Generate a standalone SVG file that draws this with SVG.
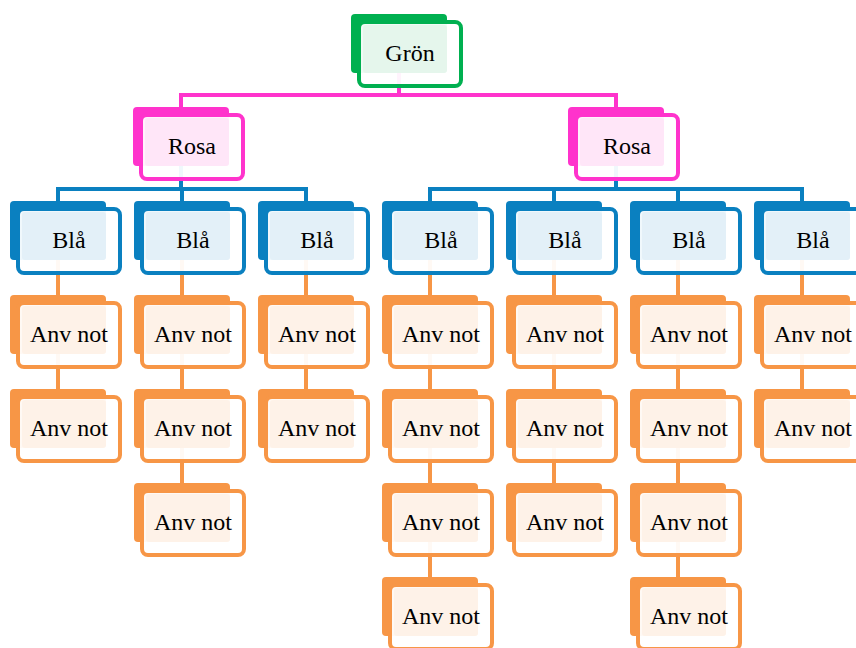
<svg xmlns="http://www.w3.org/2000/svg" width="856" height="648" viewBox="0 0 856 648">
<style>
.fr{fill:#ffffff;fill-opacity:0.94;stroke-width:4}
.t{font-size:24px;fill:#000;text-anchor:middle}
.g .bk{fill:#00b050}.g .fr{stroke:#00b050}.g .lt{fill:#e5f6ec}
.p .bk{fill:#ff33cc}.p .fr{stroke:#ff33cc}.p .lt{fill:#ffe6f8}
.b .bk{fill:#0a80c0}.b .fr{stroke:#0a80c0}.b .lt{fill:#e3f0f8}
.o .bk{fill:#f79646}.o .fr{stroke:#f79646}.o .lt{fill:#fef2e8}
.c{fill:none;stroke-width:4;stroke-linecap:butt}
</style>
<g id="connectors">
<path class="c" stroke="#ff33cc" d="M399,73 V95 M181,107 V95 H616 V107"/>
<path class="c" stroke="#0a80c0" d="M181,166 V189 M58,201 V189 H306 V201 M182,189 V201"/>
<path class="c" stroke="#0a80c0" d="M616,166 V189 M430,201 V189 H802 V201 M554,189 V201 M678,189 V201"/>
<path class="c" stroke="#f79646" d="M58,260 V295 M58,354 V389"/>
<path class="c" stroke="#f79646" d="M182,260 V295 M182,354 V389 M182,448 V483"/>
<path class="c" stroke="#f79646" d="M306,260 V295 M306,354 V389"/>
<path class="c" stroke="#f79646" d="M430,260 V295 M430,354 V389 M430,448 V483 M430,542 V577"/>
<path class="c" stroke="#f79646" d="M554,260 V295 M554,354 V389 M554,448 V483"/>
<path class="c" stroke="#f79646" d="M678,260 V295 M678,354 V389 M678,448 V483 M678,542 V577"/>
<path class="c" stroke="#f79646" d="M802,260 V295 M802,354 V389"/>
</g>
<g font-family="Liberation Serif">
<g id="n-gron" class="g" transform="translate(351,14)"><rect class="bk" width="96" height="59" rx="4"/><rect class="fr" x="8" y="8" width="102" height="64" rx="6"/><rect class="lt" x="12" y="11" width="84" height="48" rx="3"/><text class="t" x="59" y="47">Grön</text></g>
<g id="n-rosa1" class="p" transform="translate(133,107)"><rect class="bk" width="96" height="59" rx="4"/><rect class="fr" x="8" y="8" width="102" height="64" rx="6"/><rect class="lt" x="12" y="11" width="84" height="48" rx="3"/><text class="t" x="59" y="47">Rosa</text></g>
<g id="n-rosa2" class="p" transform="translate(568,107)"><rect class="bk" width="96" height="59" rx="4"/><rect class="fr" x="8" y="8" width="102" height="64" rx="6"/><rect class="lt" x="12" y="11" width="84" height="48" rx="3"/><text class="t" x="59" y="47">Rosa</text></g>
<g id="n-bla1" class="b" transform="translate(10,201)"><rect class="bk" width="96" height="59" rx="4"/><rect class="fr" x="8" y="8" width="102" height="64" rx="6"/><rect class="lt" x="12" y="11" width="84" height="48" rx="3"/><text class="t" x="59" y="47">Blå</text></g>
<g id="n-bla2" class="b" transform="translate(134,201)"><rect class="bk" width="96" height="59" rx="4"/><rect class="fr" x="8" y="8" width="102" height="64" rx="6"/><rect class="lt" x="12" y="11" width="84" height="48" rx="3"/><text class="t" x="59" y="47">Blå</text></g>
<g id="n-bla3" class="b" transform="translate(258,201)"><rect class="bk" width="96" height="59" rx="4"/><rect class="fr" x="8" y="8" width="102" height="64" rx="6"/><rect class="lt" x="12" y="11" width="84" height="48" rx="3"/><text class="t" x="59" y="47">Blå</text></g>
<g id="n-bla4" class="b" transform="translate(382,201)"><rect class="bk" width="96" height="59" rx="4"/><rect class="fr" x="8" y="8" width="102" height="64" rx="6"/><rect class="lt" x="12" y="11" width="84" height="48" rx="3"/><text class="t" x="59" y="47">Blå</text></g>
<g id="n-bla5" class="b" transform="translate(506,201)"><rect class="bk" width="96" height="59" rx="4"/><rect class="fr" x="8" y="8" width="102" height="64" rx="6"/><rect class="lt" x="12" y="11" width="84" height="48" rx="3"/><text class="t" x="59" y="47">Blå</text></g>
<g id="n-bla6" class="b" transform="translate(630,201)"><rect class="bk" width="96" height="59" rx="4"/><rect class="fr" x="8" y="8" width="102" height="64" rx="6"/><rect class="lt" x="12" y="11" width="84" height="48" rx="3"/><text class="t" x="59" y="47">Blå</text></g>
<g id="n-bla7" class="b" transform="translate(754,201)"><rect class="bk" width="96" height="59" rx="4"/><rect class="fr" x="8" y="8" width="102" height="64" rx="6"/><rect class="lt" x="12" y="11" width="84" height="48" rx="3"/><text class="t" x="59" y="47">Blå</text></g>
<g id="n-a1-1" class="o" transform="translate(10,295)"><rect class="bk" width="96" height="59" rx="4"/><rect class="fr" x="8" y="8" width="102" height="64" rx="6"/><rect class="lt" x="12" y="11" width="84" height="48" rx="3"/><text class="t" x="59" y="47">Anv not</text></g>
<g id="n-a1-2" class="o" transform="translate(10,389)"><rect class="bk" width="96" height="59" rx="4"/><rect class="fr" x="8" y="8" width="102" height="64" rx="6"/><rect class="lt" x="12" y="11" width="84" height="48" rx="3"/><text class="t" x="59" y="47">Anv not</text></g>
<g id="n-a2-1" class="o" transform="translate(134,295)"><rect class="bk" width="96" height="59" rx="4"/><rect class="fr" x="8" y="8" width="102" height="64" rx="6"/><rect class="lt" x="12" y="11" width="84" height="48" rx="3"/><text class="t" x="59" y="47">Anv not</text></g>
<g id="n-a2-2" class="o" transform="translate(134,389)"><rect class="bk" width="96" height="59" rx="4"/><rect class="fr" x="8" y="8" width="102" height="64" rx="6"/><rect class="lt" x="12" y="11" width="84" height="48" rx="3"/><text class="t" x="59" y="47">Anv not</text></g>
<g id="n-a2-3" class="o" transform="translate(134,483)"><rect class="bk" width="96" height="59" rx="4"/><rect class="fr" x="8" y="8" width="102" height="64" rx="6"/><rect class="lt" x="12" y="11" width="84" height="48" rx="3"/><text class="t" x="59" y="47">Anv not</text></g>
<g id="n-a3-1" class="o" transform="translate(258,295)"><rect class="bk" width="96" height="59" rx="4"/><rect class="fr" x="8" y="8" width="102" height="64" rx="6"/><rect class="lt" x="12" y="11" width="84" height="48" rx="3"/><text class="t" x="59" y="47">Anv not</text></g>
<g id="n-a3-2" class="o" transform="translate(258,389)"><rect class="bk" width="96" height="59" rx="4"/><rect class="fr" x="8" y="8" width="102" height="64" rx="6"/><rect class="lt" x="12" y="11" width="84" height="48" rx="3"/><text class="t" x="59" y="47">Anv not</text></g>
<g id="n-a4-1" class="o" transform="translate(382,295)"><rect class="bk" width="96" height="59" rx="4"/><rect class="fr" x="8" y="8" width="102" height="64" rx="6"/><rect class="lt" x="12" y="11" width="84" height="48" rx="3"/><text class="t" x="59" y="47">Anv not</text></g>
<g id="n-a4-2" class="o" transform="translate(382,389)"><rect class="bk" width="96" height="59" rx="4"/><rect class="fr" x="8" y="8" width="102" height="64" rx="6"/><rect class="lt" x="12" y="11" width="84" height="48" rx="3"/><text class="t" x="59" y="47">Anv not</text></g>
<g id="n-a4-3" class="o" transform="translate(382,483)"><rect class="bk" width="96" height="59" rx="4"/><rect class="fr" x="8" y="8" width="102" height="64" rx="6"/><rect class="lt" x="12" y="11" width="84" height="48" rx="3"/><text class="t" x="59" y="47">Anv not</text></g>
<g id="n-a4-4" class="o" transform="translate(382,577)"><rect class="bk" width="96" height="59" rx="4"/><rect class="fr" x="8" y="8" width="102" height="64" rx="6"/><rect class="lt" x="12" y="11" width="84" height="48" rx="3"/><text class="t" x="59" y="47">Anv not</text></g>
<g id="n-a5-1" class="o" transform="translate(506,295)"><rect class="bk" width="96" height="59" rx="4"/><rect class="fr" x="8" y="8" width="102" height="64" rx="6"/><rect class="lt" x="12" y="11" width="84" height="48" rx="3"/><text class="t" x="59" y="47">Anv not</text></g>
<g id="n-a5-2" class="o" transform="translate(506,389)"><rect class="bk" width="96" height="59" rx="4"/><rect class="fr" x="8" y="8" width="102" height="64" rx="6"/><rect class="lt" x="12" y="11" width="84" height="48" rx="3"/><text class="t" x="59" y="47">Anv not</text></g>
<g id="n-a5-3" class="o" transform="translate(506,483)"><rect class="bk" width="96" height="59" rx="4"/><rect class="fr" x="8" y="8" width="102" height="64" rx="6"/><rect class="lt" x="12" y="11" width="84" height="48" rx="3"/><text class="t" x="59" y="47">Anv not</text></g>
<g id="n-a6-1" class="o" transform="translate(630,295)"><rect class="bk" width="96" height="59" rx="4"/><rect class="fr" x="8" y="8" width="102" height="64" rx="6"/><rect class="lt" x="12" y="11" width="84" height="48" rx="3"/><text class="t" x="59" y="47">Anv not</text></g>
<g id="n-a6-2" class="o" transform="translate(630,389)"><rect class="bk" width="96" height="59" rx="4"/><rect class="fr" x="8" y="8" width="102" height="64" rx="6"/><rect class="lt" x="12" y="11" width="84" height="48" rx="3"/><text class="t" x="59" y="47">Anv not</text></g>
<g id="n-a6-3" class="o" transform="translate(630,483)"><rect class="bk" width="96" height="59" rx="4"/><rect class="fr" x="8" y="8" width="102" height="64" rx="6"/><rect class="lt" x="12" y="11" width="84" height="48" rx="3"/><text class="t" x="59" y="47">Anv not</text></g>
<g id="n-a6-4" class="o" transform="translate(630,577)"><rect class="bk" width="96" height="59" rx="4"/><rect class="fr" x="8" y="8" width="102" height="64" rx="6"/><rect class="lt" x="12" y="11" width="84" height="48" rx="3"/><text class="t" x="59" y="47">Anv not</text></g>
<g id="n-a7-1" class="o" transform="translate(754,295)"><rect class="bk" width="96" height="59" rx="4"/><rect class="fr" x="8" y="8" width="102" height="64" rx="6"/><rect class="lt" x="12" y="11" width="84" height="48" rx="3"/><text class="t" x="59" y="47">Anv not</text></g>
<g id="n-a7-2" class="o" transform="translate(754,389)"><rect class="bk" width="96" height="59" rx="4"/><rect class="fr" x="8" y="8" width="102" height="64" rx="6"/><rect class="lt" x="12" y="11" width="84" height="48" rx="3"/><text class="t" x="59" y="47">Anv not</text></g>
</g>
</svg>
